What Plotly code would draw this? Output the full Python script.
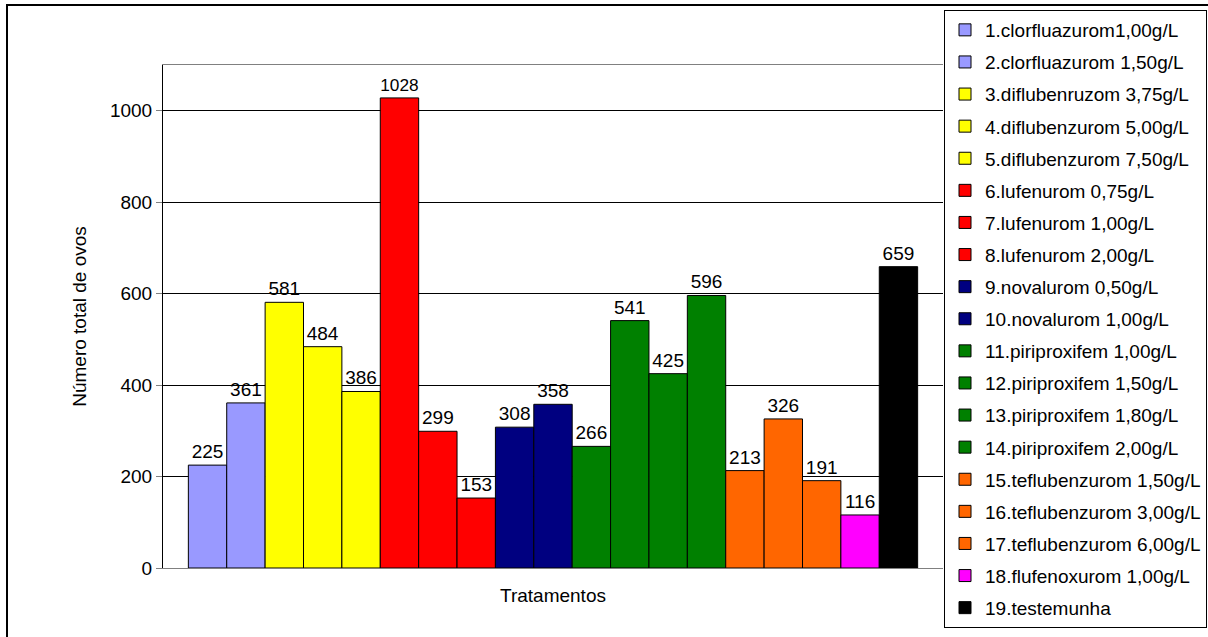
import plotly.graph_objects as go

treatments = [
    "1.clorfluazurom1,00g/L",
    "2.clorfluazurom 1,50g/L",
    "3.diflubenruzom 3,75g/L",
    "4.diflubenzurom 5,00g/L",
    "5.diflubenzurom 7,50g/L",
    "6.lufenurom 0,75g/L",
    "7.lufenurom 1,00g/L",
    "8.lufenurom 2,00g/L",
    "9.novalurom 0,50g/L",
    "10.novalurom 1,00g/L",
    "11.piriproxifem 1,00g/L",
    "12.piriproxifem 1,50g/L",
    "13.piriproxifem 1,80g/L",
    "14.piriproxifem 2,00g/L",
    "15.teflubenzurom 1,50g/L",
    "16.teflubenzurom 3,00g/L",
    "17.teflubenzurom 6,00g/L",
    "18.flufenoxurom 1,00g/L",
    "19.testemunha",
]
values = [225, 361, 581, 484, 386, 1028, 299, 153, 308, 358,
          266, 541, 425, 596, 213, 326, 191, 116, 659]
colors = ["#9999FF", "#9999FF", "#FFFF00", "#FFFF00", "#FFFF00",
          "#FF0000", "#FF0000", "#FF0000", "#000080", "#000080",
          "#008000", "#008000", "#008000", "#008000",
          "#FF6600", "#FF6600", "#FF6600", "#FF00FF", "#000000"]
y_ticks = [0, 200, 400, 600, 800, 1000]

W, H = 1208, 637
L, R, T, B = 163, 943, 65, 568
FONT = "Arial, Liberation Sans, sans-serif"
FS = 19

def px_x(p):
    return (p - L) / (R - L)

def px_y(p):
    return (B - p) / (B - T)

fig = go.Figure()
for i, (name, v, c) in enumerate(zip(treatments, values, colors)):
    fig.add_trace(go.Bar(
        x=["Tratamentos"], y=[v], name=name,
        marker=dict(color=c, line=dict(color="#000000", width=1)),
        text=[str(v)], textposition="outside",
        textfont=dict(size=FS, color="#000000", family=FONT),
        legendgroup=f"g{i:02d}", cliponaxis=False,
    ))

fig.update_layout(
    width=W, height=H,
    margin=dict(l=L, r=W - R, t=T, b=H - B, autoexpand=False),
    paper_bgcolor="white", plot_bgcolor="white",
    font=dict(family=FONT, size=FS, color="#000000"),
    barmode="group", bargap=0.065, bargroupgap=0,
    showlegend=True,
    legend=dict(
        x=px_x(944), y=px_y(10), xanchor="left", yanchor="top",
        bordercolor="#000000", borderwidth=1, bgcolor="white",
        font=dict(size=FS, family=FONT, color="#000000"),
        tracegroupgap=4.4, traceorder="grouped", maxheight=640,
    ),
    xaxis=dict(
        showticklabels=False, ticks="", showgrid=False,
        showline=True, linecolor="#808080", linewidth=1, mirror=True,
        title=dict(text="Tratamentos", font=dict(size=FS, family=FONT), standoff=20),
        automargin=False,
    ),
    yaxis=dict(
        range=[0, 1100], tickvals=y_ticks,
        ticks="outside", ticklen=6, tickcolor="#808080",
        showline=True, linecolor="#000000", linewidth=1,
        showgrid=True, gridcolor="#000000", gridwidth=1,
        zeroline=False,
        tickfont=dict(size=FS, family=FONT),
        title=dict(text="Número total de ovos", font=dict(size=FS, family=FONT), standoff=18),
        automargin=False,
    ),
)

fig.add_shape(type="rect", xref="paper", yref="paper",
              x0=px_x(7), x1=px_x(1220), y0=px_y(650), y1=px_y(5),
              line=dict(color="#000000", width=2), layer="below")

fig.write_html("out.html")
